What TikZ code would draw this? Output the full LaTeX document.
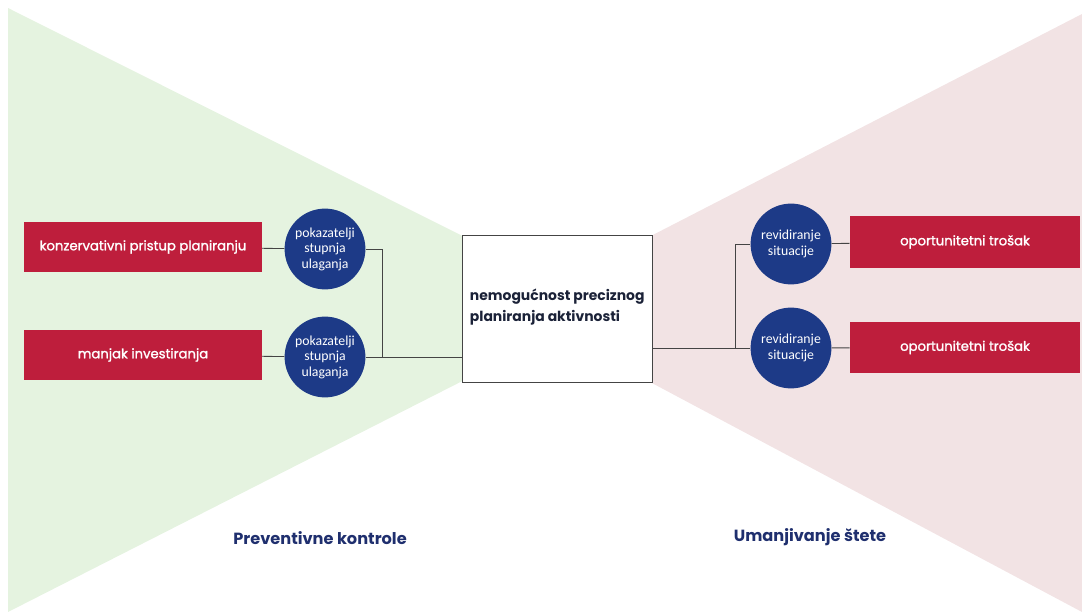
\documentclass[tikz,border=0pt]{standalone}
\usepackage{fontspec}
\setmainfont{Poppins}
\newfontfamily\circfont{Carlito}
\newfontfamily\labelfont[RawFeature={embolden=1.5}]{Poppins}
\usepackage{tikz}

\definecolor{leftgreen}{HTML}{E5F3E0}
\definecolor{rightpink}{HTML}{F2E3E4}
\definecolor{causered}{HTML}{BE1E3C}
\definecolor{ballblue}{HTML}{1D3A87}
\definecolor{titleblue}{HTML}{1F2F6E}
\definecolor{eventtext}{HTML}{1B2238}
\definecolor{linegray}{HTML}{444444}

\begin{document}
\begin{tikzpicture}[x=0.025cm,y=-0.025cm,
	cause/.style={fill=causered,text=white,minimum width=59.4mm,minimum height=12.6mm,font=\labelfont\fontsize{9.4}{11}\selectfont},
	effect/.style={fill=causered,text=white,minimum width=57.5mm,minimum height=12.9mm,font=\labelfont\fontsize{9.4}{11}\selectfont},
	ball/.style={circle,fill=ballblue,text=white,minimum size=20.2mm,inner sep=0pt,align=center,font=\circfont\fontsize{9.8}{11}\selectfont},
	conn/.style={draw=linegray,line width=0.6pt},
	side/.style={text=titleblue,font=\bfseries\fontsize{11.5}{13}\selectfont}]
	\useasboundingbox (0,0) rectangle (1082,615);
	% the two fans
	\fill[leftgreen] (8,8) -- (606,308) -- (8,612) -- cycle;
	\fill[rightpink] (1082,14) -- (511,308) -- (1082,612) -- cycle;
	% left side
	\node[cause] (konz) at (143,247) {konzervativni pristup planiranju};
	\node[cause] (manjak) at (143,355) {manjak investiranja};
	\node[ball] (pok1) at (325,249) {pokazatelji\\stupnja\\ulaganja};
	\node[ball] (pok2) at (325,357) {pokazatelji\\stupnja\\ulaganja};
	% middle
	\node[draw=linegray,line width=0.6pt,fill=white,minimum width=47.5mm,minimum height=36.75mm] (event) at (557,308.5) {};
	\node[anchor=west,align=left,text=eventtext,font=\bfseries\fontsize{9.9}{15}\selectfont] (eventtxt) at (465,307) {nemogućnost preciznog\\planiranja aktivnosti};
	% right side
	\node[ball] (rev1) at (791,244) {revidiranje\\situacije};
	\node[ball] (rev2) at (791,348) {revidiranje\\situacije};
	\node[effect] (opp1) at (965,242) {oportunitetni trošak};
	\node[effect] (opp2) at (965,347.5) {oportunitetni trošak};
	% connectors
	\coordinate (lj) at (382,357);
	\coordinate (rj) at (735,348);
	\draw[conn] (konz) -- (pok1);
	\draw[conn] (manjak) -- (pok2);
	\draw[conn] (pok1.east) -| (lj);
	\draw[conn] (pok2.east) -- (pok2.east -| event.west);
	\draw[conn] (rev2.west -| event.east) -- (rev2.west);
	\draw[conn] (rj) |- (rev1.west);
	\draw[conn] (rev1) -- (opp1);
	\draw[conn] (rev2) -- (opp2);
	% labels under the fans
	\node[side] (prev) at (320,538) {Preventivne kontrole};
	\node[side] (uman) at (810,537) {Umanjivanje štete};
\end{tikzpicture}
\end{document}
